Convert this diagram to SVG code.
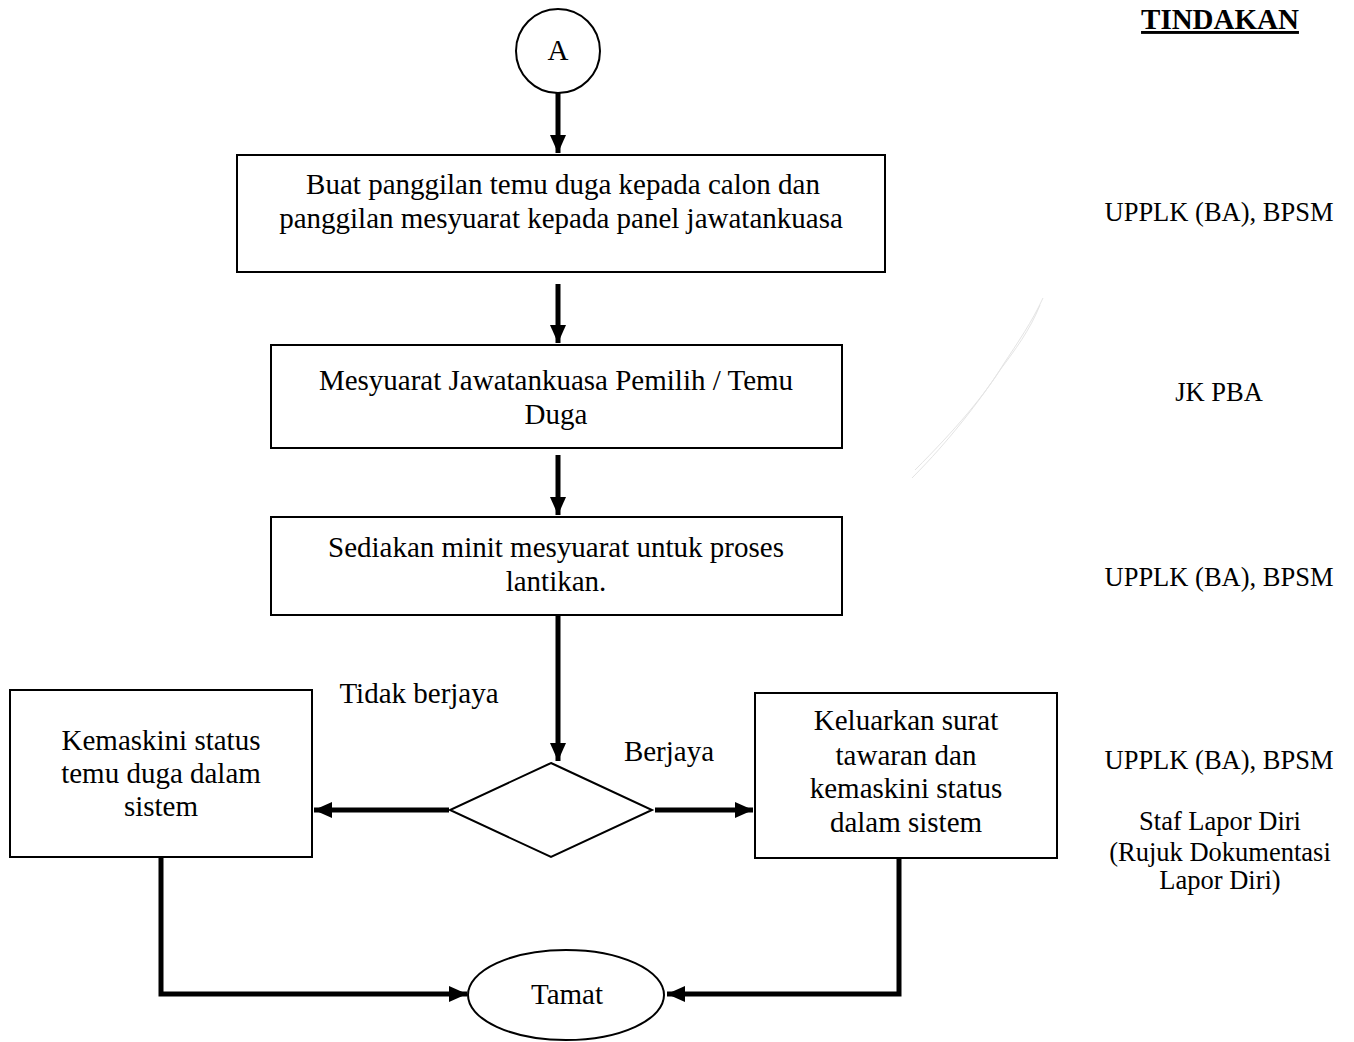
<svg xmlns="http://www.w3.org/2000/svg" width="1354" height="1042" viewBox="0 0 1354 1042">
<style>
text{font-family:"Liberation Serif","Times New Roman",serif;font-size:29px;fill:#000;text-anchor:middle}
.lbl{font-size:26.5px}
.box{fill:#fff;stroke:#000;stroke-width:2}
.conn{fill:none;stroke:#000;stroke-width:5}
.faint{fill:none;stroke:#e4e4e4;stroke-width:1}
</style>
<defs>
<marker id="ah" markerUnits="userSpaceOnUse" markerWidth="20" markerHeight="20" refX="18" refY="10" orient="auto">
<path d="M0,2 L18,10 L0,18 Z" fill="#000"/>
</marker>
</defs>
<rect width="1354" height="1042" fill="#fff"/>
<g id="scratch">
<path class="faint" d="M912,478 C950,440 980,400 1000,370 C1015,350 1030,330 1040,305"/>
<path class="faint" d="M915,470 C955,430 985,395 1003,365 C1018,342 1032,322 1043,298"/>
</g>
<g id="connectors">
<path class="conn" d="M558,93 V153" marker-end="url(#ah)"/>
<path class="conn" d="M558,284 V343" marker-end="url(#ah)"/>
<path class="conn" d="M558,455 V515" marker-end="url(#ah)"/>
<path class="conn" d="M558,615 V761" marker-end="url(#ah)"/>
<path class="conn" d="M449,810 H314" marker-end="url(#ah)"/>
<path class="conn" d="M655,810 H753" marker-end="url(#ah)"/>
<path class="conn" d="M161,857 V994 H467" marker-end="url(#ah)"/>
<path class="conn" d="M899,858 V994 H667" marker-end="url(#ah)"/>
</g>
<g id="start">
<circle class="box" cx="558" cy="51" r="42"/>
<text x="558" y="60">A</text>
</g>
<g id="box1">
<rect class="box" x="237" y="155" width="648" height="117"/>
<text x="563" y="194">Buat panggilan temu duga kepada calon dan</text>
<text x="561" y="228">panggilan mesyuarat kepada panel jawatankuasa</text>
</g>
<g id="box2">
<rect class="box" x="271" y="345" width="571" height="103"/>
<text x="556" y="390">Mesyuarat Jawatankuasa Pemilih / Temu</text>
<text x="556" y="424">Duga</text>
</g>
<g id="box3">
<rect class="box" x="271" y="517" width="571" height="98"/>
<text x="556" y="557">Sediakan minit mesyuarat untuk proses</text>
<text x="556" y="591">lantikan.</text>
</g>
<g id="decision">
<path class="box" d="M551,763 L652,810 L551,857 L450,810 Z"/>
</g>
<g id="boxLeft">
<rect class="box" x="10" y="690" width="302" height="167"/>
<text x="161" y="750">Kemaskini status</text>
<text x="161" y="783">temu duga dalam</text>
<text x="161" y="816">sistem</text>
</g>
<g id="boxRight">
<rect class="box" x="755" y="693" width="302" height="165"/>
<text x="906" y="730">Keluarkan surat</text>
<text x="906" y="765">tawaran dan</text>
<text x="906" y="798">kemaskini status</text>
<text x="906" y="832">dalam sistem</text>
</g>
<g id="end">
<ellipse class="box" cx="566" cy="995" rx="98" ry="45"/>
<text x="567" y="1004">Tamat</text>
</g>
<g id="labels">
<text x="419" y="703">Tidak berjaya</text>
<text x="669" y="761">Berjaya</text>
</g>
<g id="tindakan">
<text x="1220" y="29" font-weight="bold" font-size="25" text-decoration="underline">TINDAKAN</text>
<text class="lbl" x="1219" y="221">UPPLK (BA), BPSM</text>
<text class="lbl" x="1219" y="401">JK PBA</text>
<text class="lbl" x="1219" y="586">UPPLK (BA), BPSM</text>
<text class="lbl" x="1219" y="769">UPPLK (BA), BPSM</text>
<text class="lbl" x="1220" y="830">Staf Lapor Diri</text>
<text class="lbl" x="1220" y="861">(Rujuk Dokumentasi</text>
<text class="lbl" x="1220" y="889">Lapor Diri)</text>
</g>
</svg>
